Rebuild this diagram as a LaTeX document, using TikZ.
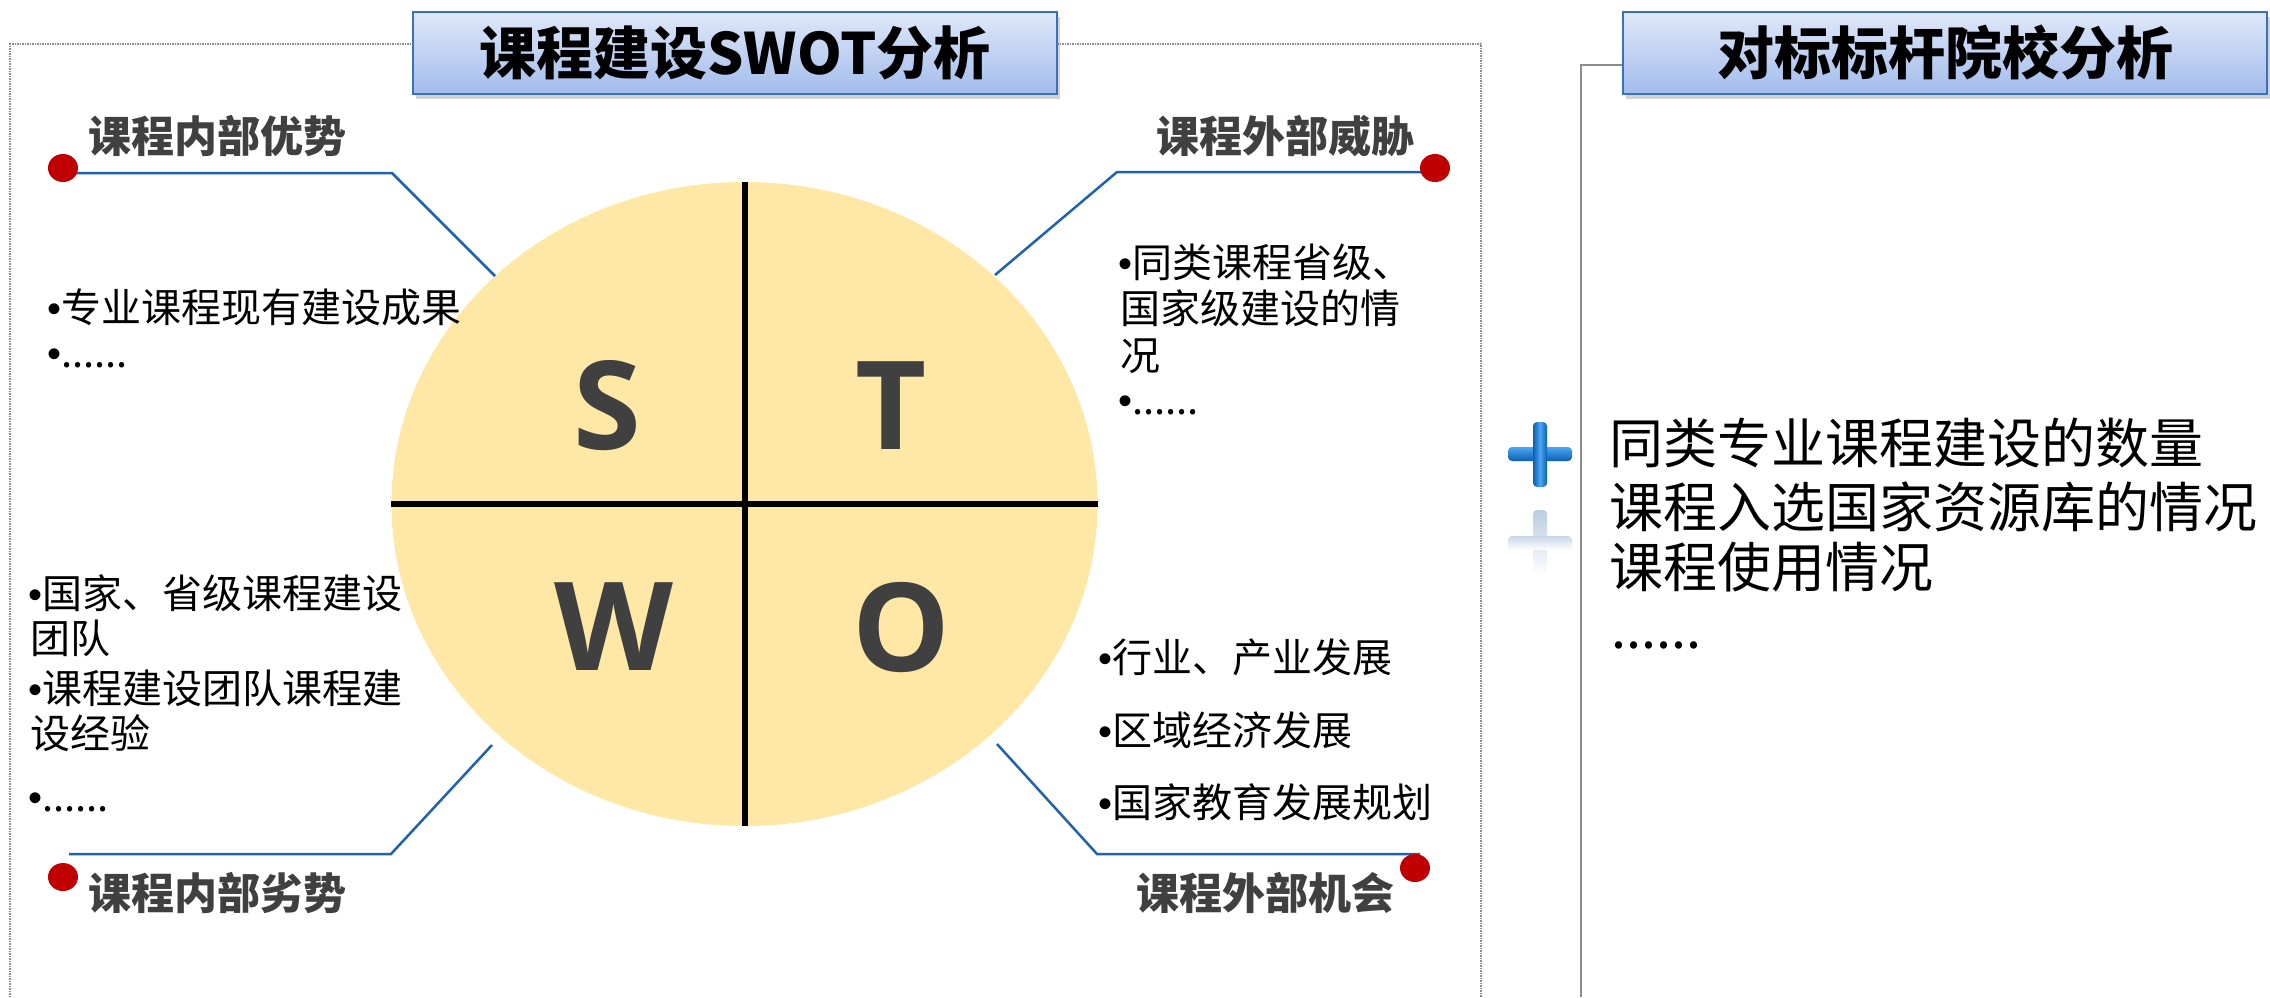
\documentclass[tikz,border=0pt]{standalone}
\usepackage{fontspec}
\setmainfont{Noto Sans CJK SC}
\newfontfamily\latf{Liberation Sans}
\newfontfamily\swotf{Open Sans}
\usetikzlibrary{shapes.geometric,shadows}
\definecolor{dk}{HTML}{404040}
\definecolor{connblue}{HTML}{1F63AC}
\definecolor{dotred}{HTML}{C00000}
\definecolor{circfill}{HTML}{FFE8A5}
\definecolor{boxblue}{HTML}{3A70BE}
\definecolor{boxtop}{HTML}{DFE8F9}
\definecolor{boxbot}{HTML}{A2BCEC}
\definecolor{framegray}{HTML}{8C8C8C}
\definecolor{plusA}{HTML}{4AA6F2}
\definecolor{plusB}{HTML}{0B5FB2}
\definecolor{reflA}{HTML}{B9CDE2}
\newcommand\mybul{{\latf •}}
\tikzset{
  conn/.style={draw=connblue, line width=2.5pt},
  rdot/.style={ellipse, fill=dotred, minimum width=30pt, minimum height=28pt, inner sep=0pt},
  lbl/.style={anchor=base west, inner sep=0pt, text=dk, font=\bfseries\fontsize{43}{46}\selectfont},
  body/.style={anchor=base west, inner sep=0pt, font=\fontsize{40}{45}\selectfont},
  big/.style={anchor=base west, inner sep=0pt, font=\fontsize{54}{60}\selectfont},
  letter/.style={text=dk, font=\swotf\bfseries\fontsize{123}{130}\selectfont, inner sep=0pt},
  titlebox/.style={draw=boxblue, line width=2pt, top color=boxtop, bottom color=boxbot,
     drop shadow={shadow xshift=3pt, shadow yshift=-5pt, opacity=.35},
     font=\bfseries\fontsize{57}{60}\selectfont, inner sep=0pt, minimum height=82pt},
  frameline/.style={draw=framegray, line width=1.5pt, densely dotted},
  panelline/.style={draw=framegray, line width=2pt},
}
\begin{document}
\begin{tikzpicture}[x=1pt,y=-1pt]
\useasboundingbox (0,0) rectangle (2270,997);
\fill[white] (0,0) rectangle (2270,997);

% frames
\coordinate (fA) at (10,997);
\coordinate (fB) at (10,44);
\coordinate (fC) at (1481,44);
\coordinate (fD) at (1481,997);
\draw[frameline] (fA) -- (fB) -- (fC) -- (fD);
\coordinate (pA) at (1622,65);
\coordinate (pB) at (1581,65);
\coordinate (pC) at (1581,997);
\draw[panelline] (pA) -- (pB) -- (pC);

% title boxes
\node[titlebox, minimum width=644pt] (t1) at (735,53) {课程建设SWOT分析};
\node[titlebox, minimum width=644pt] (t2) at (1945,53) {对标标杆院校分析};

% circle
\node[ellipse, fill=circfill, minimum width=706pt, minimum height=644pt, inner sep=0pt] (circ) at (744.5,504) {};
\draw[line width=6pt] (circ.north) -- (circ.south);
\draw[line width=6pt] (circ.west) -- (circ.east);
\node[letter] (S) at (607,406) {S};
\node[letter] (T) at (891,406) {T};
\node[letter] (W) at (614,627) {W};
\node[letter] (O) at (901,627) {O};

% connectors
\coordinate (tlA) at (63,173);
\coordinate (tlB) at (392,173);
\coordinate (tlC) at (495,276);
\draw[conn] (tlA) -- (tlB) -- (tlC);
\coordinate (trA) at (1435,172);
\coordinate (trB) at (1117,172);
\coordinate (trC) at (995,275);
\draw[conn] (trA) -- (trB) -- (trC);
\coordinate (blA) at (69,854);
\coordinate (blB) at (391,854);
\coordinate (blC) at (492,745);
\draw[conn] (blA) -- (blB) -- (blC);
\coordinate (brA) at (1420,854);
\coordinate (brB) at (1097,854);
\coordinate (brC) at (997,744);
\draw[conn] (brA) -- (brB) -- (brC);

% red dots
\node[rdot] (dTL) at (63,168) {};
\node[rdot] (dTR) at (1435,168) {};
\node[rdot] (dBL) at (63,877) {};
\node[rdot] (dBR) at (1415,868) {};

% labels
\node[lbl] (lS) at (88,152) {课程内部优势};
\node[lbl] (lT) at (1156,152) {课程外部威胁};
\node[lbl] (lW) at (88,909) {课程内部劣势};
\node[lbl] (lO) at (1136,909) {课程外部机会};

% body texts
\node[body] (s1) at (47,322) {\mybul 专业课程现有建设成果};
\node[body] (s2) at (47,367) {\mybul......};

\node[body] (t1a) at (1118,277) {\mybul 同类课程省级、};
\node[body] (t1b) at (1120,323) {国家级建设的情};
\node[body] (t1c) at (1120,370) {况};
\node[body] (t2a) at (1118,414) {\mybul......};

\node[body] (w1a) at (28,608) {\mybul 国家、省级课程建设};
\node[body] (w1b) at (30,653) {团队};
\node[body] (w2a) at (28,703) {\mybul 课程建设团队课程建};
\node[body] (w2b) at (30,748) {设经验};
\node[body] (w3) at (28,811) {\mybul......};

\node[body] (o1) at (1098,672) {\mybul 行业、产业发展};
\node[body] (o2) at (1098,745) {\mybul 区域经济发展};
\node[body] (o3) at (1098,817) {\mybul 国家教育发展规划};

% right panel
\node[big] (r1) at (1609,463) {同类专业课程建设的数量};
\node[big] (r2) at (1609,527) {课程入选国家资源库的情况};
\node[big] (r3) at (1609,587) {课程使用情况};
\node[big] (r4) at (1611,648) {......};

% plus sign and its reflection
\shade[top color=reflA, bottom color=white, rounded corners=4pt] (1533,510) rectangle (1547,575);
\shade[top color=reflA!80, bottom color=white, rounded corners=4pt] (1508,536) rectangle (1572,550);
\shade[top color=plusA, bottom color=plusB, rounded corners=4pt] (1508,447) rectangle (1572,461);
\shade[left color=plusB, right color=plusB, middle color=plusA, rounded corners=4pt] (1533,422) rectangle (1547,487);
\end{tikzpicture}
\end{document}
